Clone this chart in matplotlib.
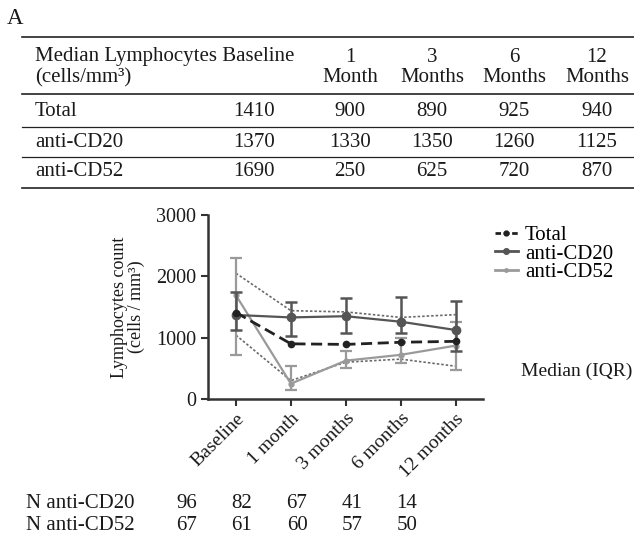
import matplotlib
matplotlib.use("Agg")
import matplotlib.pyplot as plt
from matplotlib.lines import Line2D

plt.rcParams['font.family'] = ['Liberation Serif', 'DejaVu Serif']

# ---------------- data ----------------
table_corner = "Median Lymphocytes"
table_cols = ["Baseline", "1\nMonth", "3\nMonths", "6\nMonths", "12\nMonths"]
table_rows = ["Total", "anti-CD20", "anti-CD52"]
table_total = [1410, 900, 890, 925, 940]
table_cd20 = [1370, 1330, 1350, 1260, 1125]
table_cd52 = [1690, 250, 625, 720, 870]

timepoints = ["Baseline", "1 month", "3 months", "6 months", "12 months"]
total_median = [1410, 900, 890, 925, 940]
cd20_median = [1370, 1330, 1350, 1260, 1125]
cd52_median = [1690, 250, 625, 720, 870]
cd20_q1 = [1125, 1030, 1075, 1076, 783]
cd20_q3 = [1745, 1582, 1645, 1663, 1600]
cd52_q1 = [717, 147, 505, 587, 473]
cd52_q3 = [2300, 530, 783, 1000, 1255]
total_q1 = [1040, 300, 600, 650, 535]
total_q3 = [2050, 1440, 1420, 1330, 1375]

n_cd20 = [96, 82, 67, 41, 14]
n_cd52 = [67, 61, 60, 57, 50]

# ---------------- figure ----------------
W, H = 634, 538
fig = plt.figure(figsize=(W / 100, H / 100), dpi=100)
FS = 15
TXT = '#1a1a1a'

def fx(px):
    return px / W

def fy(py):
    return 1 - py / H

def hline(py, x0=22, x1=634, lw=1.2):
    fig.add_artist(Line2D([fx(x0), fx(x1)], [fy(py), fy(py)], color='#222', lw=lw,
                          transform=fig.transFigure))

fig.text(fx(7), fy(19), "A", fontsize=FS + 1.5, ha='left', va='center', color=TXT)

# table
hline(37)
hline(94)
hline(127, lw=0.9)
hline(157, lw=0.9)
hline(188)
fig.text(fx(35), fy(57), table_corner + " " + table_cols[0], fontsize=FS, ha='left',
         va='center', color=TXT)
fig.text(fx(35), fy(78), "(cells/mm³)", fontsize=FS, ha='left', va='center', color=TXT)
col_x = [254, 350, 432, 514, 597]
for i, c in enumerate(table_cols):
    if i == 0:
        continue
    parts = c.split("\n")
    fig.text(fx(col_x[i]), fy(57), parts[0], fontsize=FS, ha='center', va='center', color=TXT)
    fig.text(fx(col_x[i]), fy(78), parts[1], fontsize=FS, ha='center', va='center', color=TXT)
row_y = [112, 142, 172]
for r, (name, vals) in enumerate(zip(table_rows, [table_total, table_cd20, table_cd52])):
    fig.text(fx(35), fy(row_y[r]), name, fontsize=FS, ha='left', va='center', color=TXT)
    for i, v in enumerate(vals):
        fig.text(fx(col_x[i]), fy(row_y[r]), str(v), fontsize=FS,
                 ha='center', va='center', color=TXT)

# ---------------- plot ----------------
ax = fig.add_axes([fx(208), fy(399), fx(483) - fx(208), fy(215) - fy(399)])
x = list(range(len(timepoints)))

ax.plot(x, total_q3, color='#6a6a6a', ls=(0, (1.5, 1.2)), lw=1.2, zorder=2)
ax.plot(x, total_q1, color='#6a6a6a', ls=(0, (1.5, 1.2)), lw=1.2, zorder=2)

cd52_err = [[m - lo for m, lo in zip(cd52_median, cd52_q1)],
            [hi - m for m, hi in zip(cd52_median, cd52_q3)]]
cd20_err = [[m - lo for m, lo in zip(cd20_median, cd20_q1)],
            [hi - m for m, hi in zip(cd20_median, cd20_q3)]]

ax.errorbar(x, cd52_median, yerr=cd52_err, color='#9a9a9a', lw=1.6, marker='o', ms=3.5,
            capsize=4, capthick=1.6, elinewidth=1.6, zorder=3, label='anti-CD52')
ax.errorbar(x, cd20_median, yerr=cd20_err, color='#555555', lw=1.6, marker='o', ms=6,
            capsize=4, capthick=1.8, elinewidth=1.8, zorder=4, label='anti-CD20')
ax.plot(x, total_median, color='#222', ls=(0, (4, 2)), lw=2.0, marker='o', ms=4.5,
        zorder=5, label='Total')

ax.set_xlim(-0.51, 4.5)
ax.set_ylim(0, 3000)
ax.set_yticks([0, 1000, 2000, 3000])
ax.set_xticks(x)
ax.set_xticklabels(timepoints, rotation=45, ha='right', va='top', rotation_mode='anchor',
                   fontsize=14, color=TXT)
ax.tick_params(axis='y', labelsize=14.5, labelcolor=TXT, length=5, width=1.5, color='#333')
ax.tick_params(axis='x', length=5, width=1.5, color='#333', pad=3)
for s in ['top', 'right']:
    ax.spines[s].set_visible(False)
for s in ['left', 'bottom']:
    ax.spines[s].set_linewidth(1.8)
    ax.spines[s].set_color('#333')
ax.set_ylabel("Lymphocytes count\n(cells / mm³)", fontsize=13, color=TXT,
              linespacing=1.0, labelpad=8)

handles = [
    Line2D([], [], color='#222', ls=(0, (2, 1)), lw=2.0, marker='o', ms=3.5),
    Line2D([], [], color='#555555', lw=2.0, marker='o', ms=4),
    Line2D([], [], color='#9a9a9a', lw=2.0, marker='o', ms=2.5),
]
fig.legend(handles, ['Total', 'anti-CD20', 'anti-CD52'], loc='upper left',
           bbox_to_anchor=(fx(480), fy(211)), frameon=False, fontsize=15,
           handlelength=1.1, handletextpad=0.35, labelspacing=-0.05, borderpad=0.2)

fig.text(fx(521), fy(371), "Median (IQR)", fontsize=14, ha='left', va='center', color=TXT)

# N rows
n_x = [187, 242, 297, 352, 407]
for yy, lab, vals in [(503, "N anti-CD20", n_cd20), (526, "N anti-CD52", n_cd52)]:
    fig.text(fx(26), fy(yy), lab, fontsize=15, ha='left', va='center', color=TXT)
    for xx, v in zip(n_x, vals):
        fig.text(fx(xx), fy(yy), str(v), fontsize=15, ha='center', va='center', color=TXT)

fig.savefig("out.png", dpi=100)
